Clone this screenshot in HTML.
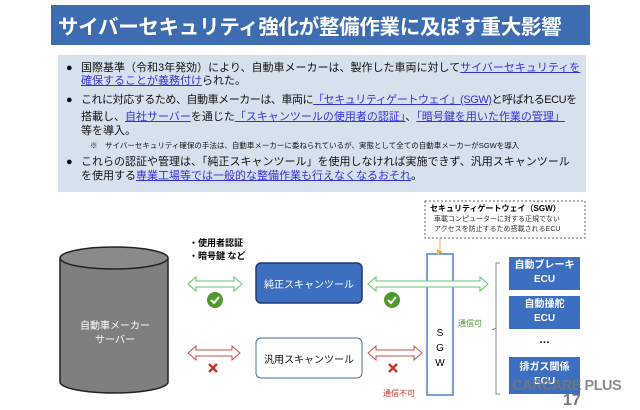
<!DOCTYPE html>
<html><head><meta charset="utf-8"><style>
body{margin:0;width:640px;height:410px;background:#fff;position:relative;overflow:hidden;font-family:"Liberation Sans","Noto Sans CJK JP",sans-serif;}
.a{position:absolute;white-space:nowrap;}
.u{color:#3333dd;text-decoration:underline;}
.t{font-size:11px;line-height:13px;color:#111;}
</style></head><body>
<div class="a" style="left:51px;top:5px;width:539px;height:40px;background:#3d6db0;"></div>
<div class="a" style="left:58px;top:10px;font-size:20.5px;font-weight:bold;color:#fff;letter-spacing:-0.3px;">サイバーセキュリティ強化が整備作業に及ぼす重大影響</div>
<div class="a" style="left:58px;top:55px;width:528px;height:137px;background:#d7e1ee;"></div>
<div class="a t" style="left:66px;top:62px;">●</div>
<div class="a t" style="left:81px;top:62px;">国際基準（令和3年発効）により、自動車メーカーは、製作した車両に対して<span class="u">サイバーセキュリティを</span></div>
<div class="a t" style="left:81px;top:75px;"><span class="u">確保することが義務付け</span>られた。</div>
<div class="a t" style="left:66px;top:94px;">●</div>
<div class="a t" style="left:81px;top:94px;letter-spacing:-0.45px;">これに対応するため、自動車メーカーは、車両に<span class="u">「セキュリティゲートウェイ」(SGW)</span>と呼ばれるECUを</div>
<div class="a t" style="left:81px;top:111px;">搭載し、<span class="u">自社サーバー</span>を通じた<span class="u">「スキャンツールの使用者の認証」</span>、<span class="u">「暗号鍵を用いた作業の管理」</span></div>
<div class="a t" style="left:81px;top:125px;">等を導入。</div>
<div class="a" style="left:90px;top:140px;font-size:7.5px;color:#111;">※　サイバーセキュリティ確保の手法は、自動車メーカーに委ねられているが、実態として全ての自動車メーカーがSGWを導入</div>
<div class="a t" style="left:66px;top:156px;">●</div>
<div class="a t" style="left:81px;top:156px;">これらの認証や管理は、「純正スキャンツール」を使用しなければ実施できず、汎用スキャンツール</div>
<div class="a t" style="left:81px;top:170px;">を使用する<span class="u">専業工場等では一般的な整備作業も行えなくなるおそれ</span>。</div>

<svg class="a" style="left:0;top:0" width="640" height="410">
<defs><marker id="m" markerWidth="6" markerHeight="6" refX="3" refY="3"><path d="M0,0L6,3L0,6z" fill="#f0b040"/></marker></defs>
<path d="M60,258 L60,382 A54,11 0 0 0 168,382 L168,258" fill="#7f7f7f" stroke="#222" stroke-width="1.5"/>
<ellipse cx="114" cy="258" rx="54" ry="11" fill="#8a8a8a" stroke="#222" stroke-width="1.5"/>
<rect x="256" y="263" width="106" height="40" rx="5" fill="#3c6fc0" stroke="#1f3a70" stroke-width="1.5"/>
<rect x="256" y="338" width="106" height="40" rx="5" fill="#fff" stroke="#41719c" stroke-width="1"/>
<rect x="427" y="254" width="26" height="141" fill="#fff" stroke="#4a7fc8" stroke-width="1.5"/>
<rect x="425" y="201" width="160" height="37" fill="#fff" stroke="#666" stroke-dasharray="2,2"/>
<line x1="440" y1="238" x2="440" y2="252" stroke="#f0b040" stroke-width="1" marker-end="url(#m)"/>
<rect x="509" y="257" width="71" height="33" fill="#3c6fc0"/>
<rect x="509" y="296" width="71" height="33" fill="#3c6fc0"/>
<rect x="509" y="357" width="71" height="37" fill="#3c6fc0"/>
<path d="M500,263 L496,263 L496,394 L500,394 M496,328 L492,330" fill="none" stroke="#888"/>
<g fill="#fff" stroke-width="1">
<path d="M188,284 L196,277 L196,281 L234,281 L234,277 L242,284 L234,291 L234,287 L196,287 L196,291Z" stroke="#6bbf6b"/>
<path d="M368,284 L376,277 L376,281 L480,281 L480,277 L488,284 L480,291 L480,287 L376,287 L376,291Z" stroke="#6bbf6b"/>
<path d="M188,353 L196,346 L196,350 L232,350 L232,346 L240,353 L232,360 L232,356 L196,356 L196,360Z" stroke="#c0504d"/>
<path d="M368,353 L376,346 L376,350 L414,350 L414,346 L422,353 L414,360 L414,356 L376,356 L376,360Z" stroke="#c0504d"/>
</g>
<circle cx="215" cy="300" r="8" fill="#4e9a2e"/><path d="M211,300 L214,303 L219,297" stroke="#fff" stroke-width="2" fill="none"/>
<circle cx="392" cy="300" r="8" fill="#4e9a2e"/><path d="M388,300 L391,303 L396,297" stroke="#fff" stroke-width="2" fill="none"/>
<path d="M209,364 L217,372 M217,364 L209,372" stroke="#c0392b" stroke-width="2.5"/>
<path d="M389,364 L397,372 M397,364 L389,372" stroke="#c0392b" stroke-width="2.5"/>
</svg>
<div class="a" style="left:189px;top:237px;font-size:9px;font-weight:bold;line-height:13px;">・使用者認証<br>・暗号鍵 など</div>
<div class="a" style="left:80px;top:320px;width:70px;text-align:center;font-size:10px;color:#fff;line-height:14px;">自動車メーカー<br>サーバー</div>
<div class="a" style="left:256px;top:276px;width:106px;text-align:center;font-size:10px;color:#fff;">純正スキャンツール</div>
<div class="a" style="left:256px;top:351px;width:106px;text-align:center;font-size:10px;color:#111;">汎用スキャンツール</div>
<div class="a" style="left:427px;top:326px;width:26px;text-align:center;font-size:10px;line-height:15px;">S<br>G<br>W</div>
<div class="a" style="left:430px;top:203px;font-size:8px;font-weight:bold;">セキュリティゲートウェイ（SGW）</div>
<div class="a" style="left:434px;top:215px;font-size:7px;line-height:10px;color:#333;">車載コンピューターに対する正規でない<br>アクセスを防止するため搭載されるECU</div>
<div class="a" style="left:458px;top:318px;font-size:8px;color:#4e9a2e;">通信可</div>
<div class="a" style="left:383px;top:388px;font-size:8px;color:#c0392b;">通信不可</div>
<div class="a" style="left:509px;top:259px;width:71px;text-align:center;font-size:10px;font-weight:bold;color:#fff;line-height:14px;">自動ブレーキ<br>ECU</div>
<div class="a" style="left:509px;top:298px;width:71px;text-align:center;font-size:10px;font-weight:bold;color:#fff;line-height:14px;">自動操舵<br>ECU</div>
<div class="a" style="left:509px;top:334px;width:71px;text-align:center;font-size:11px;font-weight:bold;">…</div>
<div class="a" style="left:509px;top:361px;width:71px;text-align:center;font-size:10px;font-weight:bold;color:#fff;line-height:14px;">排ガス関係<br>ECU</div>
<div class="a" style="left:512px;top:378px;font-size:14.5px;font-weight:bold;color:#777;opacity:0.85;letter-spacing:-0.5px;">CARCARE PLUS</div>
<div class="a" style="left:563px;top:392px;font-size:16px;font-weight:bold;color:#777;">17</div>
</body></html>
